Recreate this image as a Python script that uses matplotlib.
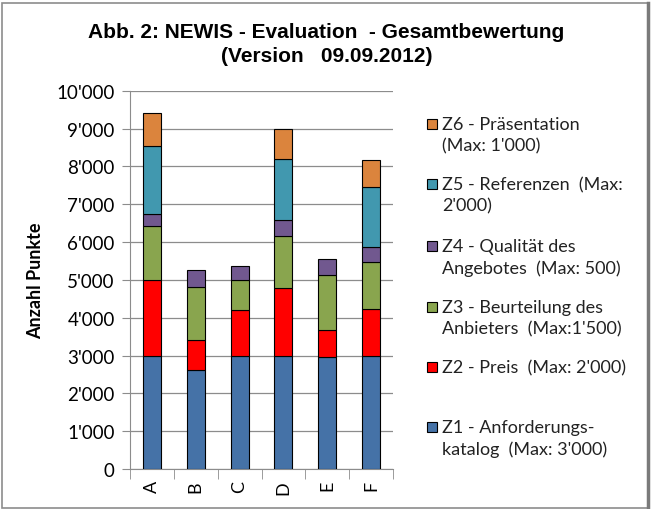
import matplotlib
matplotlib.use("Agg")
import matplotlib.pyplot as plt
import numpy as np
from matplotlib.patches import Rectangle
from matplotlib.ticker import FuncFormatter

# Daten
anbieter = ["A", "B", "C", "D", "E", "F"]
z1 = [3000, 2630, 3000, 3000, 2950, 3000]
z2 = [2000, 770, 1200, 1780, 720, 1230]
z3 = [1420, 1400, 800, 1370, 1450, 1230]
z4 = [310, 450, 360, 420, 420, 400]
z5 = [1820, 0, 0, 1620, 0, 1590]
z6 = [860, 0, 0, 790, 0, 710]

labels = [
    "Z1 - Anforderungs-\nkatalog  (Max: 3'000)",
    "Z2 - Preis  (Max: 2'000)",
    "Z3 - Beurteilung des\nAnbieters  (Max:1'500)",
    "Z4 - Qualität des\nAngebotes  (Max: 500)",
    "Z5 - Referenzen  (Max:\n2'000)",
    "Z6 - Präsentation\n(Max: 1'000)",
]
farben = ["#4572A7", "#FF0000", "#89A54E", "#71588F", "#4198AF", "#DB843D"]

W, H = 653, 510
fig = plt.figure(figsize=(W / 100, H / 100), dpi=100)
fig.patch.set_facecolor("white")

# Rahmen
fig.add_artist(Rectangle((1.5 / W, 1 - 508.5 / H), 646 / W, 505 / H,
                         transform=fig.transFigure, fill=False,
                         edgecolor="#8c8c8c", lw=1.2))
fig.add_artist(plt.Line2D([648 / W, 648 / W], [1 - 508.5 / H, 1 - 3.5 / H],
                          transform=fig.transFigure, color="#7a7a7a", lw=2.5))

ax = fig.add_axes([130 / W, 1 - 470 / H, 263 / W, 378.3 / H])

x = np.arange(len(anbieter))
serien = [z1, z2, z3, z4, z5, z6]
unten = np.zeros(len(anbieter))
for werte, farbe in zip(serien, farben):
    werte = np.array(werte, dtype=float)
    mask = werte > 0
    ax.bar(x[mask], werte[mask], bottom=unten[mask], width=0.41,
           color=farbe, edgecolor="black", linewidth=0.8, zorder=3)
    unten += werte

ax.set_xlim(-0.5, 5.5)
ax.set_ylim(0, 10000)
ax.set_yticks(np.arange(0, 10001, 1000))
ax.yaxis.set_major_formatter(FuncFormatter(
    lambda v, p: f"{int(v):,}".replace(",", "'")))
ax.grid(axis="y", color="#8c8c8c", lw=0.9, zorder=0)
for s in ["top", "right"]:
    ax.spines[s].set_visible(False)
ax.spines["left"].set_color("#8c8c8c")
ax.spines["bottom"].set_color("#8c8c8c")

ax.set_xticks(x)
ax.set_xticklabels(anbieter, rotation=90, fontsize=13, family="Lato")
ax.tick_params(axis="x", length=0, pad=8)
ax.set_xticks(np.arange(-0.5, 5.6, 1), minor=True)
ax.tick_params(axis="x", which="minor", length=7, color="#8c8c8c")
ax.tick_params(axis="y", length=6, color="#8c8c8c", labelsize=13.5, pad=5)
for t in ax.get_yticklabels():
    t.set_family("Lato")

ax.set_ylabel("Anzahl Punkte", fontsize=13, fontweight="bold",
              family="Lato", labelpad=9)

fig.text(0.5, 1 - 32 / H, "Abb. 2: NEWIS - Evaluation  - Gesamtbewertung",
         ha="center", va="center", fontsize=15, fontweight="bold",
         family="Liberation Sans")
fig.text(0.5, 1 - 56 / H, "(Version   09.09.2012)",
         ha="center", va="center", fontsize=15, fontweight="bold",
         family="Liberation Sans")

# Legende (von oben nach unten)
leg_y = [125, 185, 247, 308, 368, 428]
for i, (lab, farbe) in enumerate(zip(labels[::-1], farben[::-1])):
    y0 = leg_y[i]
    fig.add_artist(Rectangle((427 / W, 1 - (y0 + 5) / H), 10 / W, 10 / H,
                             transform=fig.transFigure, facecolor=farbe,
                             edgecolor="black", lw=0.8))
    fig.text(442 / W, 1 - (y0 - 8) / H, lab, ha="left", va="top",
             fontsize=13, family="Lato", linespacing=1.4, color="#222222")

fig.savefig("out.png", dpi=100)
